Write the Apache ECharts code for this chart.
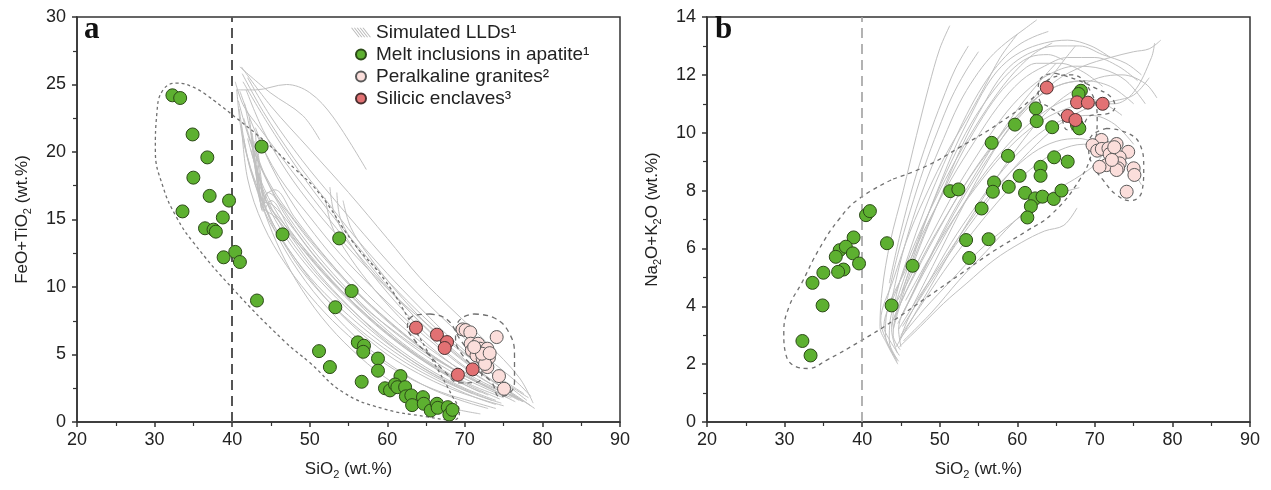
<!DOCTYPE html>
<html>
<head>
<meta charset="utf-8">
<script src="https://cdn.jsdelivr.net/npm/echarts@6/dist/echarts.min.js"></script>
<style>
  html, body { margin: 0; padding: 0; background: #ffffff; }
  #chart { width: 1271px; height: 490px; }
</style>
</head>
<body>
<div id="chart"></div>
<script>
// Axis ranges: [min, max, interval]
const siO2Axis = [20, 90, 10];
const feoTiO2Axis = [0, 30, 5];
const alkaliAxis = [0, 14, 2];
const dividerSiO2 = [40];

// Panel a: FeO+TiO2 vs SiO2 — simulated liquid lines of descent
const lldFeTi = [
  [[41.2,26.3],[45,23.4],[50,20.2],[55,17.0],[60,13.6],[64.2,10.7],[68.6,8.2],[72.8,5.9],[77,3.3],[78.8,1.4]],
  [[41.0,26.3],[44.9,24.4],[49.1,22.7],[51.3,20.9]],
  [[40.5,24.6],[43,24.6],[47,25.0],[50,24.4],[53,22.6],[57.3,18.7]],
  [[41.3,25.8],[44,23],[48,19.5],[52,16.5],[56,13.6],[60,11],[64,8.6],[68,6.3],[72,4.3],[76,2.5],[78,1.6]],
  [[41.0,24.5],[43,21.5],[46,18.2],[50,15.2],[54,12.4],[58,10],[62,7.8],[66,5.8],[70,4.0],[74,2.6],[77,1.7]],
  [[40.8,23.8],[42.5,20.5],[45,17.5],[48,15],[52,12.2],[56,9.7],[60,7.6],[64,5.7],[68,4.1],[72,2.8],[76,1.8]],
  [[41.5,22.5],[43.2,19.5],[45.5,16.8],[49,13.8],[53,11],[57,8.6],[61,6.6],[65,4.9],[69,3.5],[73,2.4],[75.5,1.8]],
  [[42.0,21.0],[43.6,18.0],[46,15.3],[49.5,12.5],[53.5,9.9],[57.5,7.7],[61.5,5.8],[65.5,4.2],[69.5,2.9],[73,2.0]],
  [[42.4,20.2],[44,17.2],[46.5,14.4],[50,11.6],[54,9.1],[58,7],[62,5.2],[66,3.7],[70,2.5],[74,1.6]],
  [[42.8,19.8],[44.3,16.5],[47,13.6],[50.5,11],[54.5,8.6],[58.5,6.5],[62.5,4.8],[66.5,3.4],[70.5,2.3],[73.5,1.6]],
  [[43.2,19.0],[44.2,15.6],[47.5,12.6],[51,10.1],[55,7.9],[59,6.0],[63,4.4],[67,3.1],[71,2.1]],
  [[43.6,18.2],[44.4,15.8],[48,12],[51.5,9.5],[55.5,7.3],[59.5,5.5],[63.5,4.0],[67.5,2.8],[71,1.9],[74,1.3]],
  [[41.5,21],[42.5,18.4],[44.8,15.2],[48,12.2],[52,9.2],[56,6.9],[60,5],[64,3.6],[68,2.5],[72,1.7],[75,1.2]],
  [[41.2,22],[42,18],[44,14.6],[47,11.6],[51,8.7],[55,6.4],[59,4.6],[63,3.2],[67,2.2],[71,1.5],[74,1.0]],
  [[40.6,24.6],[41.2,21.5],[42.5,18.5],[44.2,15.5],[46.3,12.6],[49,9.8],[52.5,7.1],[56.5,4.8],[60.5,3.0],[64.5,1.8],[68.5,1.0],[72,0.6]],
  [[40.9,23.2],[42,19.6],[43.8,16.6],[46,13.6],[49.5,10.4],[53.5,7.7],[57.5,5.5],[61.5,3.8],[65.5,2.5],[69.5,1.6],[73,1.0]],
  [[41.6,23.6],[43,20.2],[45.2,17],[48.4,14],[52.3,11.2],[56.4,8.8],[60.5,6.9],[64.7,5.2],[68.8,3.8],[72.8,2.7],[76.5,1.9]],
  [[41.8,24.6],[44,21.6],[47,18.6],[50.6,15.8],[54.5,13.2],[58.4,10.8],[62.4,8.6],[66.5,6.6],[70.5,4.8],[74.4,3.3],[77.6,2.1]],
  [[42,25.5],[45,22.6],[49,19.4],[53,16.6],[57,13.9],[61,11.3],[65,8.9],[69,6.7],[73,4.7],[76.8,2.9],[78.5,1.9]],
  [[41.4,25.2],[44.5,22.2],[48.5,18.7],[52.5,15.6],[56.5,12.8],[60.5,10.2],[64.5,7.9],[68.5,5.8],[72.5,4],[76,2.6],[78.2,1.8]],
  [[43.0,21.8],[45,19],[48,16],[51.6,13.2],[55.5,10.6],[59.5,8.3],[63.5,6.3],[67.5,4.6],[71.5,3.2],[75,2.2],[77,1.6]],
  [[42.6,21.4],[43.1,18.6],[43.8,16],[45.5,15.2],[48.5,13.2],[52.5,10.6],[56.5,8.3],[60.5,6.3],[64.5,4.6],[68.5,3.2],[72,2.2]],
  [[42.9,20.8],[43.4,18],[44.0,15.6],[45,16.4],[47.5,14.2],[51,11.6],[55,9.2],[59,7.1],[63,5.3],[67,3.8],[71,2.6],[74.5,1.7]],
  [[43.3,20.4],[43.7,18.2],[44.3,16.4],[46.5,14.8],[50,12.4],[54,9.8],[58,7.6],[62,5.7],[66,4.1],[70,2.8]],
  [[42.2,22.6],[42.8,20],[43.5,17.6],[45,15.8],[47.5,13.8],[51,11.1],[55,8.6],[59,6.4],[63,4.6],[67,3.2],[71,2.1],[74.7,1.4]],
  [[42.5,20.8],[42.9,19],[43.4,17.2],[43.9,15.7],[44.3,16.8],[45.5,17.2],[48,15.2],[51.5,12.6],[55.5,10],[59.5,7.8],[63.5,5.9],[67.5,4.3],[71.5,3]],
  [[43.0,21.4],[43.3,19.4],[43.7,17.6],[44.1,16.2],[44.6,17.0],[46.5,16.0],[50,13.4],[54,10.8],[58,8.5],[62,6.5],[66,4.8],[70,3.4],[74,2.3]],
  [[42.3,22.0],[42.7,20.0],[43.2,18.0],[43.8,16.4],[45.2,16.1],[47.5,14.6],[51,12.0],[55,9.5],[59,7.3],[63,5.4],[67,3.9],[71,2.7],[75,1.8]],
  [[52.6,17.4],[53.2,15.4],[55,13.4],[58,11],[62,8.3],[66,6],[70,4.1],[74,2.6],[77.5,1.5]],
  [[53.5,17.0],[54,15],[56,13],[59.5,10.4],[63.5,7.8],[67.5,5.6],[71.5,3.8],[75.5,2.3],[78.5,1.2]],
  [[52.0,16.6],[52.8,14.6],[54.5,12.8],[57.5,10.4],[61.5,7.8],[65.5,5.6],[69.5,3.8],[73.5,2.4],[76.5,1.5]],
  [[54.3,16.4],[55.3,14.4],[57.5,12.4],[61,9.8],[65,7.3],[69,5.1],[73,3.3],[76.5,2.0],[79,1.0]],
  [[40.4,25.2],[41.5,23.4],[43.5,21.8],[46.5,19.5],[50.5,16.5],[54.5,13.6],[58.5,10.9],[62.5,8.4],[66.5,6.2],[70.5,4.3],[74.5,2.7],[77.5,1.5]]
];

// Panel b: Na2O+K2O vs SiO2 — simulated liquid lines of descent
const lldAlkali = [
  [[44.6,2.0],[43.2,2.7],[42.3,3.3],[42.6,4.6],[43.6,6.2],[45.3,8.0],[47,9.9],[48.6,11.6],[50,12.9],[51.3,13.7]],
  [[44.5,2.1],[43,2.9],[42.4,3.5],[44,4.9],[46.2,6.6],[48.5,8.0],[50.9,9.3],[53.3,10.4],[55.6,11.5],[57.8,12.6],[60,13.4]],
  [[44.8,2.3],[43.4,2.9],[42.8,3.3],[44.5,4.6],[47,6.3],[50,8.0],[53,9.5],[56,10.8],[59,11.9],[62,12.7],[64.5,13.1]],
  [[44.4,2.2],[43,3.0],[43.2,3.8],[45.5,5.2],[48.5,6.9],[51.5,8.4],[54.5,9.7],[57.5,10.9],[60.5,11.8],[63.5,12.3],[66.5,12.6],[70,12.6],[73,12.3],[75.5,11.8]],
  [[44.7,2.1],[43.5,2.8],[43.6,3.5],[46,4.9],[49,6.5],[52,8.0],[55,9.3],[58,10.5],[61,11.4],[64,12],[67.5,12.3],[71,12.2],[74,11.8],[76.5,11.0]],
  [[44.9,2.5],[44,3.0],[44.5,3.8],[47,5.2],[50,6.7],[53,8.1],[56,9.3],[59,10.3],[62,11.1],[65,11.6],[68.5,11.8],[72,11.6],[75,11.0]],
  [[44.5,2.4],[43.8,3.2],[45.3,4.3],[48,5.8],[51,7.2],[54,8.5],[57,9.6],[60,10.6],[63,11.3],[66,11.7],[69,11.8]],
  [[45,2.6],[44.7,3.2],[46.5,4.4],[49.5,5.9],[52.5,7.3],[55.5,8.5],[58.5,9.5],[61.5,10.3],[64.5,10.9],[67.5,11.2],[70.5,11.1],[73.5,10.6]],
  [[44.8,2.8],[46,3.6],[48.5,4.8],[51.5,6.2],[54.5,7.4],[57.5,8.5],[60.5,9.4],[63.5,10.1],[66.5,10.5],[69.5,10.6],[72.5,10.3],[75,9.6]],
  [[45,3.0],[47.5,4.0],[50.5,5.2],[53.5,6.3],[56.5,7.3],[59.5,8.2],[62.5,8.9],[65.5,9.4],[68.5,9.6],[71.5,9.5],[74,9.0],[76,8.2]],
  [[44.9,2.9],[48,3.9],[51.5,4.9],[55,5.9],[58.5,6.7],[62,7.4],[65.5,7.9],[68,8.1]],
  [[44.8,2.6],[47.5,3.3],[50.5,4.1],[53.5,4.8],[57,5.6],[60.5,6.2],[63.5,6.6],[66,6.8],[67.7,7.4]],
  [[43.8,3.3],[44.5,4.5],[46,5.8],[48,7.3],[50,8.6],[52,9.8],[54,10.9],[56,11.8],[58,12.5],[60,13.0],[62,13.3],[64,13.5]],
  [[43.5,3.8],[44.8,5.4],[46.5,7.0],[48.5,8.5],[50.5,9.8],[52.5,11.0],[54.5,11.9],[56.5,12.6],[58.5,13.1],[61,13.6],[62.5,13.9]],
  [[44.2,3.6],[46,5.2],[48,6.8],[50,8.2],[52,9.5],[54,10.6],[56,11.6],[58,12.3],[60.5,12.8],[63.5,13.1],[66.5,13.2],[69.5,13.0],[72,12.6]],
  [[44,3.2],[45.5,4.6],[47.5,6.1],[49.5,7.4],[51.5,8.7],[53.5,9.9],[55.5,10.9],[57.5,11.8],[59.5,12.4],[62,12.8],[65,13.0],[68,13.0],[71,12.7],[74,12.4],[76,12.0]],
  [[44.6,3.4],[47.5,5],[51,6.8],[54.5,8.4],[58,9.8],[61.5,10.9],[65,11.8],[68.5,12.3],[72,12.6],[75,12.8],[77,12.9],[78.5,13.2]],
  [[45.2,3.3],[48.5,4.7],[52,6.1],[55.5,7.4],[59,8.6],[62.5,9.6],[66,10.4],[69.5,10.9],[72.5,11.1],[75,11.3],[77,11.9]],
  [[45.4,3.8],[48,5.3],[51,6.9],[54,8.3],[57,9.6],[60,10.8],[63,11.8],[65,12.4]],
  [[43.2,4.2],[44.6,5.8],[46.2,7.3],[48,8.8],[49.8,10.1],[51.5,11.2],[53.3,12.1],[55,12.8]],
  [[45.6,4.2],[48.5,5.6],[52,7.1],[55.5,8.4],[59,9.5],[62.5,10.3],[66,10.8],[69.5,11.0],[72.5,11.0],[75,11.4],[77.3,12.6],[77.7,13.1]],
  [[44.2,4.0],[46.5,5.8],[49,7.5],[51.5,9.0],[54,10.3],[56.5,11.3],[59,12.1],[61.5,12.6],[64,12.7],[66,12.5]],
  [[45.1,4.5],[47.5,6.2],[50,7.7],[52.5,9.1],[55,10.3],[57.5,11.3],[60,12.0],[62.5,12.4],[65.5,12.4],[68.5,12.1],[71,11.6]],
  [[44.7,3.2],[47,4.2],[50,5.4],[53,6.6],[56,7.7],[59,8.6],[62,9.3],[65,9.7],[68,9.8],[70.5,9.6]],
  [[45.3,2.8],[49,3.8],[52.5,4.9],[56,5.9],[59.5,6.9],[62.5,7.6],[65.5,8.1],[68,8.5],[70,8.9],[72,9.6]],
  [[44.4,2.6],[46.5,3.6],[49.5,5.0],[52.5,6.4],[55.5,7.7],[58.5,8.9],[61.5,10.0],[64.5,10.9],[67.5,11.5],[70.5,11.9],[73.5,12.0],[76.5,11.7],[78,11.2]],
  [[46.5,4.0],[49.5,5.6],[52.5,7.2],[55.5,8.7],[58.5,10.0],[61.5,11.0],[64,11.8],[66,12.5],[67.5,13.0]],
  [[43.5,4.8],[45,6.6],[46.7,8.3],[48.5,9.8],[50.3,11.1],[52,12.2],[53.7,13.0]]
];

// Panel a samples [SiO2, FeO+TiO2]
const meltFeTi = [
  [32.3,24.2],[33.3,24.0],[34.9,21.3],[36.8,19.6],[35.0,18.1],[37.1,16.75],[39.6,16.4],[33.6,15.6],
  [38.8,15.15],[36.5,14.35],[37.6,14.25],[37.9,14.1],[43.8,20.4],[46.5,13.9],[38.9,12.2],[40.4,12.6],
  [41.0,11.85],[43.2,9.0],[51.2,5.25],[53.8,13.6],[55.4,9.7],[53.3,8.5],[52.6,4.07],[56.2,5.9],
  [57.0,5.65],[56.9,5.2],[58.8,4.7],[58.8,3.8],[56.7,2.98],[61.7,3.4],[59.7,2.5],[60.35,2.34],
  [61.0,2.78],[61.3,2.58],[62.3,2.58],[62.4,1.9],[63.1,1.97],[63.2,1.25],[64.6,1.84],[64.7,1.35],
  [65.6,0.85],[66.4,1.35],[66.5,1.05],[67.8,1.1],[68.0,0.55],[68.4,0.9]
];
const graniteFeTi = [
  [69.7,6.86],[70.1,6.81],[70.7,6.64],[74.1,6.29],[70.75,5.8],[71.7,5.8],[70.9,5.3],[71.95,5.43],
  [72.9,5.43],[71.5,4.93],[72.3,4.69],[73.1,4.76],[72.9,4.07],[72.6,4.3],[74.4,3.4],[75.05,2.46],
  [72.2,5.06],[71.2,5.55],[73.2,5.1]
];
const enclaveFeTi = [[63.7,6.99],[66.4,6.47],[67.7,5.92],[67.4,5.48],[71.0,3.9],[69.1,3.5]];

// Panel b samples [SiO2, Na2O+K2O]
const meltAlkali = [
  [40.5,7.15],[41.0,7.29],[38.9,6.38],[43.2,6.18],[51.35,7.98],[52.4,8.04],[37.1,5.94],[37.9,6.06],
  [36.6,5.71],[38.8,5.83],[39.6,5.48],[37.6,5.27],[36.9,5.19],[35.0,5.16],[33.6,4.81],[34.9,4.03],
  [32.3,2.8],[33.35,2.3],[46.5,5.4],[43.8,4.03],[68.2,11.45],[67.9,11.34],[62.4,10.84],[62.5,10.4],
  [59.7,10.28],[64.5,10.19],[67.7,10.27],[68.0,10.15],[56.7,9.65],[58.8,9.2],[64.75,9.15],[66.5,9.0],
  [63.0,8.82],[63.0,8.51],[60.3,8.51],[57.0,8.28],[56.85,7.96],[58.9,8.13],[61.0,7.92],[62.3,7.73],
  [63.25,7.79],[64.7,7.71],[65.7,8.0],[61.75,7.46],[61.3,7.07],[55.4,7.38],[53.4,6.29],[56.3,6.32],
  [53.8,5.67]
];
const graniteAlkali = [
  [70.85,9.75],[69.7,9.57],[70.3,9.38],[70.9,9.44],[71.75,9.46],[72.8,9.61],[74.3,9.34],[71.9,9.26],
  [73.2,9.15],[73.2,8.94],[71.5,8.88],[70.6,8.82],[73.0,8.77],[72.8,8.71],[75.0,8.77],[75.1,8.54],
  [74.1,7.96],[72.2,9.06],[72.5,9.5]
];
const enclaveAlkali = [[63.8,11.56],[67.7,11.05],[69.1,11.04],[71.0,11.0],[66.5,10.58],[67.5,10.44]];

// Outlined compositional fields (closed outlines)
const meltFieldFeTi = [
  [37,24.1],[39.7,22.9],[44,20.9],[48,18.8],[51.3,16.9],[55.6,13.3],[59.7,10.5],[63,7.4],[66,4.4],
  [68.3,2.0],[69.3,0.7],[68.6,0.15],[65,0.4],[59.4,1.0],[54.3,2.2],[50,4.4],[46.7,6.0],[40.2,9.8],
  [35,13.3],[32.8,15.2],[31.1,17.4],[30.1,20.1],[30.3,22.9],[31.1,24.6],[32.9,25.1],[35,24.8],[37,24.1]
];
const enclaveFieldFeTi = [
  [65.5,8.0],[67.7,7.6],[69.3,6.2],[71,4.8],[72.2,3.7],[71.6,2.95],[69.3,2.9],[67.3,3.8],[65.5,4.9],
  [63.6,6.0],[62.6,7.1],[63.5,7.9],[65.5,8.0]
];
const graniteFieldFeTi = [
  [71.2,8.0],[73.8,7.7],[75.8,6.5],[76.4,4.8],[76.4,3.0],[75.7,2.1],[74.4,1.9],[73.5,2.9],[71.3,4.0],
  [69.4,5.2],[68.8,6.2],[68.9,7.0],[69.6,7.7],[71.2,8.0]
];
const meltFieldAlkali = [
  [44,8.4],[48.3,8.85],[52.6,9.5],[57.5,10.3],[62,11.2],[64.5,11.9],[67,12.0],[69.5,11.4],[70.3,10.4],
  [69.6,9.3],[68.1,8.4],[64.5,7.2],[61.2,6.6],[56.9,5.9],[52.6,5.1],[48.3,4.3],[44,3.5],[39.8,2.8],
  [35.5,2.15],[33,1.85],[31.6,1.9],[30.2,2.3],[29.9,3.1],[30.6,4.0],[32.2,4.8],[34.5,6.0],[37,7.0],
  [39.5,7.7],[44,8.4]
];
const enclaveFieldAlkali = [
  [65,12.05],[67.5,11.85],[70,11.55],[72,11.25],[72.6,10.9],[71.5,10.65],[69.5,10.6],[68.2,10.2],
  [66.5,10.1],[65.5,10.6],[64,10.9],[62.9,11.1],[62.7,11.5],[63.3,11.95],[65,12.05]
];
const graniteFieldAlkali = [
  [71.5,10.15],[74.1,10.0],[75.8,9.6],[76.3,8.8],[76.1,8.0],[74.6,7.65],[72.8,7.85],[71.1,8.35],
  [69.6,8.95],[69.2,9.5],[69.6,9.9],[71.5,10.15]
];

const FONT = 'Liberation Sans, Arial, sans-serif';
const AX = '#333333';
const LLD_NAME = 'Simulated LLDs\u00b9';
const MELT_NAME = 'Melt inclusions in apatite\u00b9';
const GRAN_NAME = 'Peralkaline granites\u00b2';
const ENCL_NAME = 'Silicic enclaves\u00b3';

const nameRich = {
  m: { fontSize: 17, lineHeight: 22, verticalAlign: 'middle', fontFamily: FONT, color: '#222' },
  s: { fontSize: 11, lineHeight: 11, verticalAlign: 'bottom', fontFamily: FONT, color: '#222' }
};

function valueAxis(gi, range, name, gap) {
  return {
    type: 'value', gridIndex: gi, min: range[0], max: range[1], interval: range[2],
    name: name, nameLocation: 'middle', nameGap: gap,
    nameTextStyle: { fontSize: 17, fontFamily: FONT, color: '#222', rich: nameRich },
    axisLine: { show: true, onZero: false, lineStyle: { color: AX, width: 1.5 } },
    axisTick: { show: true, inside: false, length: 5, lineStyle: { color: AX, width: 1.5 } },
    minorTick: { show: true, splitNumber: 2, length: 4, lineStyle: { color: AX, width: 1.2 } },
    splitLine: { show: false },
    minorSplitLine: { show: false },
    axisLabel: { fontSize: 18, color: '#222', fontFamily: FONT, margin: 8 }
  };
}

function xAxis(gi) {
  const a = valueAxis(gi, siO2Axis, '{m|SiO}{s|2}{m| (wt.%)}', 36);
  a.axisLabel.margin = 9;
  return a;
}
function yAxis(gi, range, name) {
  const a = valueAxis(gi, range, name, 44);
  a.axisLabel.margin = 11;
  return a;
}

function lldSeries(curves, gi) {
  return curves.map(c => ({
    type: 'line', name: LLD_NAME, xAxisIndex: gi, yAxisIndex: gi,
    data: c, smooth: 0.35, symbol: 'none', showSymbol: false, silent: true, z: 1,
    lineStyle: { color: '#c0c0c0', width: 1 }, itemStyle: { color: '#c0c0c0' },
    emphasis: { disabled: true }
  }));
}

function fieldSeries(poly, gi, dash) {
  return {
    type: 'line', name: 'field', xAxisIndex: gi, yAxisIndex: gi,
    data: poly, smooth: 0.45, symbol: 'none', showSymbol: false, silent: true, z: 3,
    lineStyle: { color: '#707070', width: 1.3, type: dash },
    emphasis: { disabled: true }
  };
}

function dividerSeries(gi, color, width) {
  return {
    type: 'scatter', name: 'divider', xAxisIndex: gi, yAxisIndex: gi, data: [], silent: true, z: 2,
    markLine: {
      silent: true, symbol: 'none', label: { show: false },
      lineStyle: { color: color, width: width, type: [10, 6] },
      data: dividerSiO2.map(v => ({ xAxis: v }))
    }
  };
}

function pointSeries(name, data, gi, fill, border) {
  return {
    type: 'scatter', name: name, xAxisIndex: gi, yAxisIndex: gi, data: data,
    symbol: 'circle', symbolSize: 13, z: 5,
    itemStyle: { color: fill, borderColor: border, borderWidth: 1, opacity: 1 }
  };
}

const GREEN = '#5db030', GREEN_B = '#2c4a18';
const PINK = '#fbdedb', PINK_B = '#5a5a5a';
const RED = '#e27173', RED_B = '#4a3030';

const series = [].concat(
  lldSeries(lldFeTi, 0),
  lldSeries(lldAlkali, 1),
  [
    dividerSeries(0, '#555555', 2),
    dividerSeries(1, '#a0a0a0', 1.6),
    fieldSeries(meltFieldFeTi, 0, [3, 3]),
    fieldSeries(enclaveFieldFeTi, 0, [5, 4]),
    fieldSeries(graniteFieldFeTi, 0, [5, 4]),
    fieldSeries(meltFieldAlkali, 1, [4, 4]),
    fieldSeries(enclaveFieldAlkali, 1, [4, 4]),
    fieldSeries(graniteFieldAlkali, 1, [4, 4]),
    pointSeries(MELT_NAME, meltFeTi, 0, GREEN, GREEN_B),
    pointSeries(ENCL_NAME, enclaveFeTi, 0, RED, RED_B),
    pointSeries(GRAN_NAME, graniteFeTi, 0, PINK, PINK_B),
    pointSeries(MELT_NAME, meltAlkali, 1, GREEN, GREEN_B),
    pointSeries(GRAN_NAME, graniteAlkali, 1, PINK, PINK_B),
    pointSeries(ENCL_NAME, enclaveAlkali, 1, RED, RED_B)
  ]
);

const chart = echarts.init(document.getElementById('chart'), null, { renderer: 'canvas' });
chart.setOption({
  animation: false,
  backgroundColor: '#ffffff',
  title: [
    { text: 'a', left: 84, top: 14, padding: 0,
      textStyle: { fontFamily: 'Liberation Serif, Times New Roman, serif', fontWeight: 'bold', fontSize: 31, color: '#111' } },
    { text: 'b', left: 715, top: 14, padding: 0,
      textStyle: { fontFamily: 'Liberation Serif, Times New Roman, serif', fontWeight: 'bold', fontSize: 31, color: '#111' } }
  ],
  legend: {
    orient: 'vertical', left: 351, top: 23, padding: 0,
    itemWidth: 20, itemHeight: 10, itemGap: 3, selectedMode: false,
    textStyle: { fontSize: 19, color: '#222', fontFamily: FONT },
    data: [
      { name: LLD_NAME,
        icon: 'path://M0,0L1.2,0L9,10L7.8,10Z M3,0L4.2,0L12,10L10.8,10Z M6,0L7.2,0L15,10L13.8,10Z M9,0L10.2,0L18,10L16.8,10Z M12,0L13.2,0L21,10L19.8,10Z',
        itemStyle: { color: '#b8b8b8', borderWidth: 0 } },
      { name: MELT_NAME, icon: 'circle' },
      { name: GRAN_NAME, icon: 'circle' },
      { name: ENCL_NAME, icon: 'circle' }
    ]
  },
  grid: [
    { left: 77, top: 17, width: 543, height: 405, show: true, borderColor: AX, borderWidth: 1.5,
      backgroundColor: 'transparent', containLabel: false, outerBoundsMode: 'none' },
    { left: 707, top: 17, width: 543, height: 405, show: true, borderColor: AX, borderWidth: 1.5,
      backgroundColor: 'transparent', containLabel: false, outerBoundsMode: 'none' }
  ],
  xAxis: [xAxis(0), xAxis(1)],
  yAxis: [
    yAxis(0, feoTiO2Axis, '{m|FeO+TiO}{s|2}{m| (wt.%)}'),
    yAxis(1, alkaliAxis, '{m|Na}{s|2}{m|O+K}{s|2}{m|O (wt.%)}')
  ],
  series: series
});
</script>
</body>
</html>
